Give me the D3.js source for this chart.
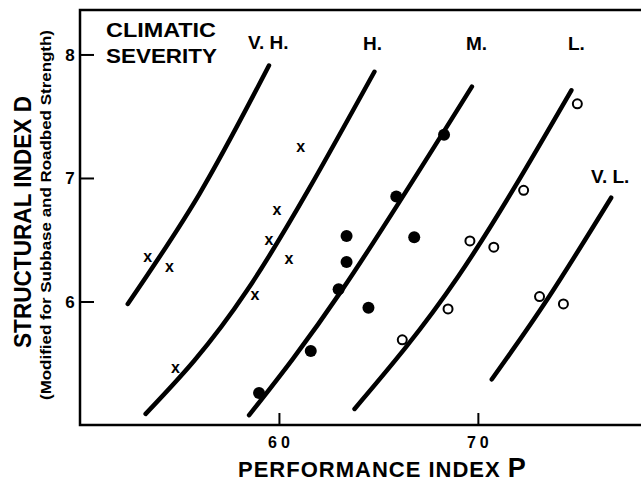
<!DOCTYPE html>
<html lang="en">
<head>
<meta charset="utf-8" />
<title>Structural index vs performance index</title>
<script src="https://cdn.jsdelivr.net/npm/d3@7/dist/d3.min.js"></script>
<style>
  body { margin: 0; background: #fff; }
  svg text { font-family: "Liberation Sans", Arial, sans-serif; font-weight: bold; fill: #000; }
</style>
</head>
<body>
<script>
// severity curves as [P, D] pairs (lower end, middle, upper end)
var severities = ["V. H.", "H.", "M.", "L.", "V. L."];
var curveVH = [[52.4, 5.98], [56.0, 6.87], [59.5, 7.91]];
var curveH  = [[53.3, 5.09], [58.4, 6.09], [64.8, 7.86]];
var curveM  = [[58.5, 5.08], [63.2, 6.10], [69.7, 7.74]];
var curveL  = [[63.8, 5.13], [69.0, 6.20], [74.7, 7.71]];
var curveVL = [[70.7, 5.37], [73.5, 6.02], [76.7, 6.84]];

// observations
var crossP  = [53.4, 54.5, 54.8, 58.8, 59.5, 59.9, 60.5, 61.1];
var crossD  = [6.36, 6.28, 5.46, 6.05, 6.50, 6.74, 6.34, 7.25];
var dotP    = [68.3, 65.9, 63.4, 66.8, 63.4, 63.0, 64.5, 61.6, 59.0];
var dotD    = [7.35, 6.85, 6.53, 6.52, 6.32, 6.10, 5.95, 5.60, 5.26];
var ringP   = [75.0, 72.3, 69.6, 70.8, 68.5, 66.2, 73.1, 74.3];
var ringD   = [7.60, 6.90, 6.49, 6.44, 5.94, 5.69, 6.04, 5.98];

var xTicks = [60, 70];
var yTicks = [6, 7, 8];

var width = 641, height = 483;
var plotLeft = 80, plotTop = 10, plotBottom = 425;

var svg = d3.select("body").append("svg")
    .attr("width", width)
    .attr("height", height);

var x = d3.scaleLinear().domain([50, 78.2]).range([plotLeft, width]);
var y = d3.scaleLinear().domain([5.0, 8.36]).range([plotBottom, plotTop]);

// frame: left, top, bottom (no right edge in the picture)
svg.append("path")
    .attr("d", "M" + width + "," + plotTop + "H" + plotLeft + "V" + plotBottom + "H" + width)
    .attr("fill", "none")
    .attr("stroke", "#000")
    .attr("stroke-width", 2.5);

// inward ticks
var yAxis = svg.append("g")
    .attr("transform", "translate(" + plotLeft + ",0)")
    .call(d3.axisRight(y).tickValues(yTicks).tickSize(14).tickFormat(""));
var xAxis = svg.append("g")
    .attr("transform", "translate(0," + plotBottom + ")")
    .call(d3.axisTop(x).tickValues(xTicks).tickSize(12).tickFormat(""));
[xAxis, yAxis].forEach(function(g) {
    g.select(".domain").remove();
    g.selectAll("line").attr("stroke", "#000").attr("stroke-width", 2);
});

svg.selectAll(".ylab").data(yTicks).enter().append("text")
    .attr("x", 70)
    .attr("y", function(d) { return y(d); })
    .attr("dy", "0.36em")
    .attr("text-anchor", "middle")
    .attr("font-size", 17)
    .text(function(d) { return d; });

svg.selectAll(".xlab").data(xTicks).enter().append("text")
    .attr("x", function(d) { return x(d) + 2; })
    .attr("y", 448)
    .attr("text-anchor", "middle")
    .attr("font-size", 16)
    .attr("letter-spacing", 4)
    .text(function(d) { return d; });

// severity curves
var line = d3.line()
    .x(function(d) { return x(d[0]); })
    .y(function(d) { return y(d[1]); })
    .curve(d3.curveNatural);

svg.selectAll(".curve").data([curveVH, curveH, curveM, curveL, curveVL]).enter().append("path")
    .attr("d", line)
    .attr("fill", "none")
    .attr("stroke", "#000")
    .attr("stroke-width", 4.5)
    .attr("stroke-linecap", "round");

// curve labels
var labelPos = [[248, 49], [363, 50], [466, 50], [568, 50], [591, 183]];
svg.selectAll(".sev").data(severities).enter().append("text")
    .attr("x", function(d, i) { return labelPos[i][0]; })
    .attr("y", function(d, i) { return labelPos[i][1]; })
    .attr("font-size", 19)
    .text(function(d) { return d; });

svg.append("text").attr("x", 106).attr("y", 37).attr("font-size", 20)
    .attr("textLength", 110).attr("lengthAdjust", "spacingAndGlyphs").text("CLIMATIC");
svg.append("text").attr("x", 106).attr("y", 63).attr("font-size", 20)
    .attr("textLength", 111).attr("lengthAdjust", "spacingAndGlyphs").text("SEVERITY");

// points
svg.selectAll(".cross").data(crossP).enter().append("text")
    .attr("x", function(d) { return x(d); })
    .attr("y", function(d, i) { return y(crossD[i]); })
    .attr("dy", "0.3em")
    .attr("text-anchor", "middle")
    .attr("font-size", 16)
    .text("x");

svg.selectAll(".dot").data(dotP).enter().append("circle")
    .attr("cx", function(d) { return x(d); })
    .attr("cy", function(d, i) { return y(dotD[i]); })
    .attr("r", 6)
    .attr("fill", "#000");

svg.selectAll(".ring").data(ringP).enter().append("circle")
    .attr("cx", function(d) { return x(d); })
    .attr("cy", function(d, i) { return y(ringD[i]); })
    .attr("r", 4.5)
    .attr("fill", "#fff")
    .attr("stroke", "#000")
    .attr("stroke-width", 2);

// axis titles
var xt = svg.append("text").attr("x", 238).attr("y", 477).attr("font-size", 22)
    .attr("font-weight", "normal").attr("letter-spacing", 1);
xt.append("tspan").text("PERFORMANCE  INDEX  ");
xt.append("tspan").attr("font-size", 27).text("P");

svg.append("text")
    .attr("transform", "translate(31,222) rotate(-90)")
    .attr("text-anchor", "middle")
    .attr("font-size", 23)
    .attr("textLength", 252)
    .attr("lengthAdjust", "spacingAndGlyphs")
    .text("STRUCTURAL  INDEX  D");

svg.append("text")
    .attr("transform", "translate(51,215) rotate(-90)")
    .attr("text-anchor", "middle")
    .attr("font-size", 14)
    .attr("textLength", 370)
    .attr("lengthAdjust", "spacingAndGlyphs")
    .text("(Modified for Subbase and Roadbed Strength)");
</script>
</body>
</html>
